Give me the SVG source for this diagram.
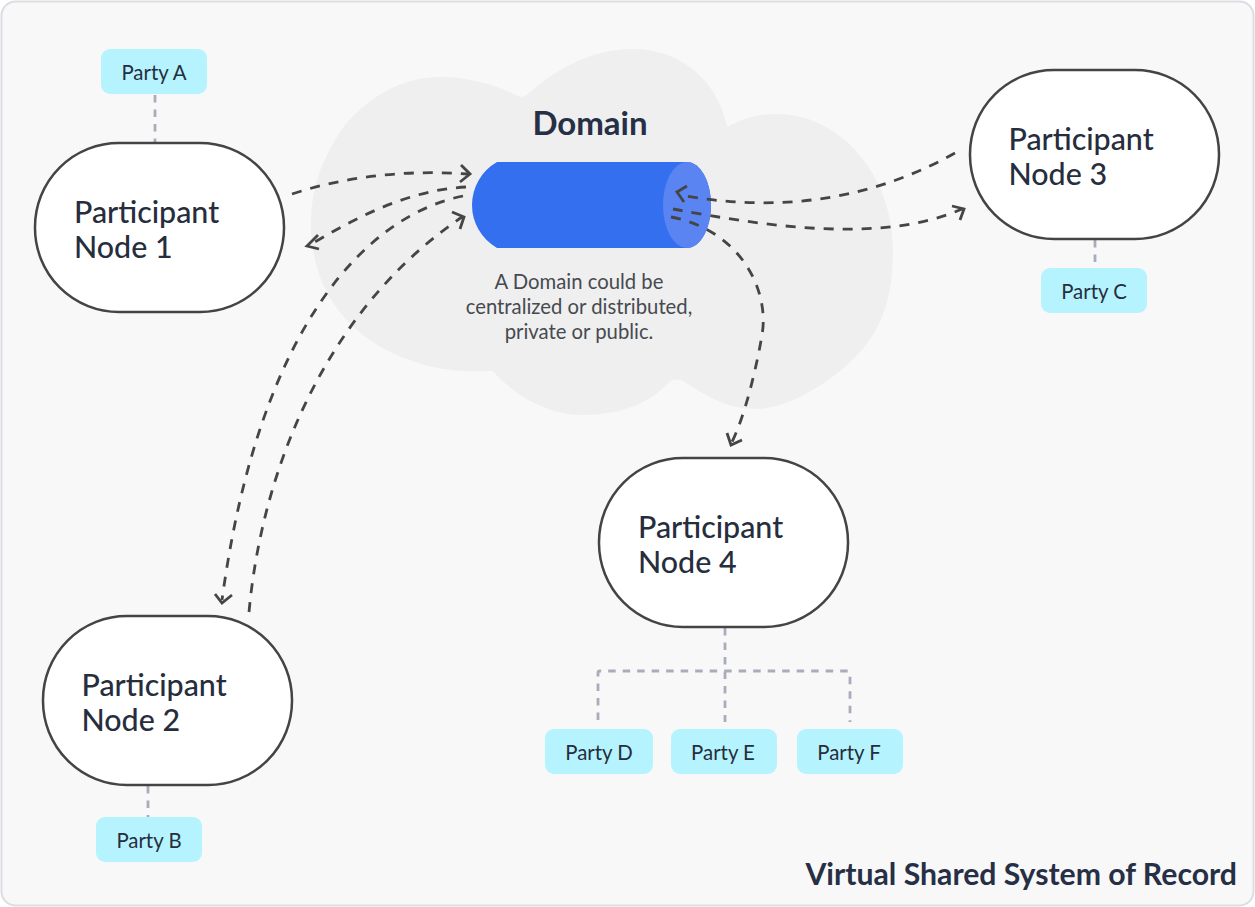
<svg xmlns="http://www.w3.org/2000/svg" width="1255" height="907" viewBox="0 0 1255 907">
<style>
text{font-family:Lato,"Noto Sans","Liberation Sans",sans-serif;fill:#262d3d}
.pn{fill:#fff;stroke:#444;stroke-width:2.5}
.pt{font-size:30.4px;font-weight:500}
.pb{fill:#b5f4fe}
.pl{font-size:20.4px;text-anchor:middle}
.cap{font-size:20.3px;text-anchor:middle;fill:#464a50}
.c{fill:none;stroke:#454545;stroke-width:2.8;stroke-dasharray:10 9}
.h{fill:none;stroke:#454545;stroke-width:2.8}
.g{fill:none;stroke:#a9adbb;stroke-width:2.8;stroke-dasharray:7.500 7}
</style>
<rect x="1.500" y="1.500" width="1252" height="904" rx="14" fill="#f8f8f8" stroke="#dcdde2" stroke-width="2"/>
<g id="domain">
<path d="M311 225C311 190 320 160 345 125C370 95 405 77 440 77C470 77 495 85 518 96Q523 98 527 95C555 70 590 49 633 49C680 49 718 80 727 127C745 117 760 114 777 114C840 114 893 175 893 250C893 300 880 330 860 352C830 385 785 409 757 409C725 409 705 395 683 381Q675 377 667 384C650 403 620 415 583 415C545 415 512 393 493 371C470 372 450 371 433 367C360 350 311 300 311 225Z" fill="#efefef"/>
<path d="M497 162H687C700 162 711 181 711 205C711 229 700 248 687 248H497A49.500 49.500 0 0 1 497 162Z" fill="#346ff0"/>
<ellipse cx="687" cy="205" rx="24" ry="43" fill="#5b84f3"/>
<text x="590" y="135" font-size="33" font-weight="700" text-anchor="middle" style="fill:#262f45">Domain</text>
<text class="cap" x="579" y="288.500">A Domain could be</text>
<text class="cap" x="579" y="313.500">centralized or distributed,</text>
<text class="cap" x="579" y="338.500">private or public.</text>
</g>
<g id="connectors">
<path class="g" d="M155 95V142"/>
<path class="g" d="M148 786V817"/>
<path class="g" d="M1095 240V268"/>
<path class="g" d="M725 628V722"/>
<path class="g" d="M598 720V673Q598 671 600 671H848Q850 671 850 673V722"/>
<path class="c" d="M292 194C350 175 410 170 468 174"/>
<path class="h" d="M461 165L470 174L460 182"/>
<path class="c" d="M466 187C410 190 360 215 308 246"/>
<path class="h" d="M318 235L307 246L319 249"/>
<path class="c" d="M463 196C370 215 260 320 222 600"/>
<path class="h" d="M215 594L222 603L232 595"/>
<path class="c" d="M249 612C262 470 325 310 462 217"/>
<path class="h" d="M452 212L464 217L460 229"/>
<path class="c" d="M955 153C880 195 790 215 680 195"/>
<path class="h" d="M687 186L677 192L684 202"/>
<path class="c" d="M673 209C760 225 880 245 962 209"/>
<path class="h" d="M952 206L964 209L960 220"/>
<path class="c" d="M671 217C740 230 770 290 762 335C756 370 745 415 732 442"/>
<path class="h" d="M727 433L731 445L742 440"/>
</g>
<g id="party-a"><rect class="pb" x="101" y="49" width="106" height="45" rx="9"/><text class="pl" x="154" y="79.500">Party A</text></g>
<g id="party-b"><rect class="pb" x="96" y="817" width="106" height="45" rx="9"/><text class="pl" x="149" y="847.500">Party B</text></g>
<g id="party-c"><rect class="pb" x="1041" y="268" width="106" height="45" rx="9"/><text class="pl" x="1094" y="298.500">Party C</text></g>
<g id="party-d"><rect class="pb" x="545" y="729" width="108" height="45" rx="9"/><text class="pl" x="599" y="759.500">Party D</text></g>
<g id="party-e"><rect class="pb" x="671" y="729" width="106" height="45" rx="9"/><text class="pl" x="723" y="759.500">Party E</text></g>
<g id="party-f"><rect class="pb" x="797" y="729" width="106" height="45" rx="9"/><text class="pl" x="849" y="759.500">Party F</text></g>
<g id="node-1"><rect class="pn" x="35" y="143" width="249" height="169" rx="84"/><text class="pt" x="74" y="223">Participant</text><text class="pt" x="74" y="258">Node 1</text></g>
<g id="node-2"><rect class="pn" x="43" y="616" width="249" height="169" rx="84"/><text class="pt" x="81.500" y="696">Participant</text><text class="pt" x="81.500" y="731">Node 2</text></g>
<g id="node-3"><rect class="pn" x="970" y="70" width="249" height="169" rx="84"/><text class="pt" x="1008.500" y="150">Participant</text><text class="pt" x="1008.500" y="185">Node 3</text></g>
<g id="node-4"><rect class="pn" x="599" y="458" width="249" height="169" rx="84"/><text class="pt" x="638" y="538">Participant</text><text class="pt" x="638" y="573">Node 4</text></g>
<text x="1237" y="885" font-size="30.200" font-weight="700" text-anchor="end" style="fill:#262f45">Virtual Shared System of Record</text>
</svg>
